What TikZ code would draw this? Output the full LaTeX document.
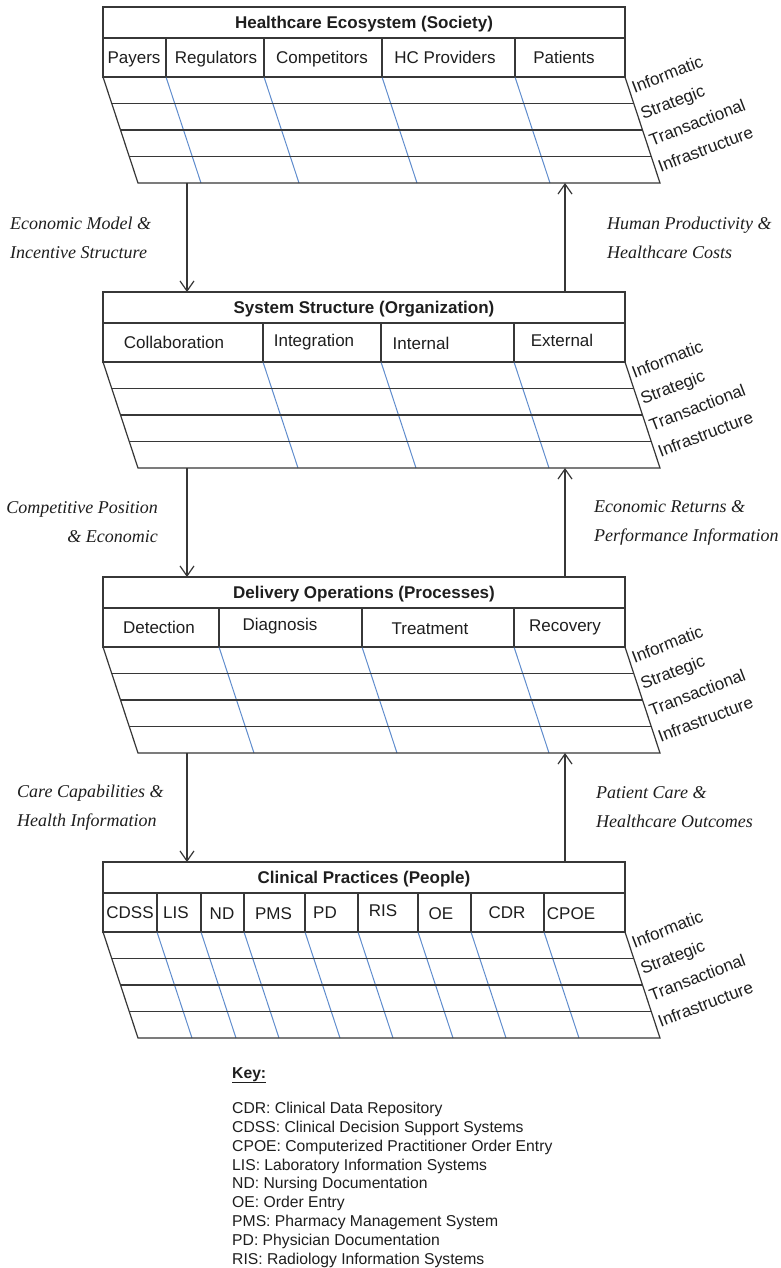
\documentclass[tikz,border=0pt]{standalone}
\usepackage{fontspec}
\setmainfont{Liberation Sans}
\newfontfamily\labelserif{Liberation Serif}
\usetikzlibrary{arrows.meta}

\definecolor{frameline}{RGB}{55,55,55}
\definecolor{cellblue}{RGB}{95,140,205}
\definecolor{inktext}{RGB}{30,30,30}

\tikzset{
  frame/.style={draw=frameline, line width=1.2pt},
  cellline/.style={draw=cellblue, line width=1pt},
  titletext/.style={font=\fontsize{17}{20}\selectfont\bfseries, text=inktext, inner sep=0pt, text height=12.2pt, text depth=0pt},
  celltext/.style={font=\fontsize{17}{20}\selectfont, text=inktext, inner sep=0pt, text height=12.2pt, text depth=0pt},
  layerlabel/.style={font=\fontsize{17}{20}\selectfont, text=inktext, inner sep=0pt, anchor=base west, rotate=21},
  flowlabel/.style={font=\labelserif\itshape\fontsize{18}{29}\selectfont, text=inktext, inner sep=0pt},
  flow/.style={draw=frameline, line width=1.2pt, -{Straight Barb[length=10pt,width=14pt,line width=1.2pt]}},
  keytext/.style={font=\fontsize{15.7}{18.8}\selectfont, text=inktext, inner sep=0pt, anchor=base west},
}

% One layer: title row, header row with column walls, and the slanted
% four-row grid with its row names on the right.
% #1 id, #2 top edge, #3 title, #4 column walls
\newcommand{\layerblock}[4]{%
  \pgfmathsetmacro{\tb}{#2+31}%
  \pgfmathsetmacro{\hb}{#2+70}%
  \pgfmathsetmacro{\gb}{#2+176}%
  \draw[frame] (103,#2) rectangle (625,\hb);
  \draw[frame] (103,\tb) -- (625,\tb);
  \node[titletext] (#1-title) at (364,#2+15.5) {#3};
  \foreach \xx in {#4} {
    \draw[frame] (\xx,\tb) -- (\xx,\hb);
    \draw[cellline] (\xx,\hb) -- (\xx+35,\gb);
  }
  \foreach \k in {1,2,3} {
    \draw[frame] (103+8.75*\k,\hb+26.5*\k) -- (625+8.75*\k,\hb+26.5*\k);
  }
  \draw[frame] (103,\hb) -- (625,\hb) -- (660,\gb) -- (138,\gb) -- cycle;
  \foreach \lab [count=\k from 0] in {Informatic,Strategic,Transactional,Infrastructure} {
    \node[layerlabel] (#1-layer\k) at (625+8.75*\k+9.4, \hb+26.5*\k+16.25) {\lab};
  }
}

\begin{document}
\begin{tikzpicture}[x=1pt,y=-1pt]
\useasboundingbox (0,0) rectangle (780,1268);
\fill[white] (0,0) rectangle (780,1268);

% ---- layers ----
\layerblock{soc}{7}{Healthcare Ecosystem (Society)}{166,264,382,515}
\node[celltext] (soc-c1) at (134,57.5) {Payers};
\node[celltext] (soc-c2) at (216,57.5) {Regulators};
\node[celltext] (soc-c3) at (322,57.5) {Competitors};
\node[celltext] (soc-c4) at (445,57.5) {HC Providers};
\node[celltext] (soc-c5) at (564,57.5) {Patients};

\layerblock{org}{292}{System Structure (Organization)}{263,381,514}
\node[celltext] (org-c1) at (174,342.5) {Collaboration};
\node[celltext] (org-c2) at (314,340.5) {Integration};
\node[celltext] (org-c3) at (421,343.5) {Internal};
\node[celltext] (org-c4) at (562,340.5) {External};

\layerblock{proc}{577}{Delivery Operations (Processes)}{219,362,514}
\node[celltext] (proc-c1) at (159,627.5) {Detection};
\node[celltext] (proc-c2) at (280,624.5) {Diagnosis};
\node[celltext] (proc-c3) at (430,628) {Treatment};
\node[celltext] (proc-c4) at (565,625.5) {Recovery};

\layerblock{ppl}{862}{Clinical Practices (People)}{157,201,244,305,358,418,471,544}
\node[celltext] (ppl-c1) at (130,912.5) {CDSS};
\node[celltext] (ppl-c2) at (176,912.5) {LIS};
\node[celltext] (ppl-c3) at (222,913.5) {ND};
\node[celltext] (ppl-c4) at (273.5,913.5) {PMS};
\node[celltext] (ppl-c5) at (325,912.5) {PD};
\node[celltext] (ppl-c6) at (383,910) {RIS};
\node[celltext] (ppl-c7) at (441,913) {OE};
\node[celltext] (ppl-c8) at (507,912.5) {CDR};
\node[celltext] (ppl-c9) at (571,913.5) {CPOE};

% ---- flows between layers ----
\coordinate (f1-out) at (187,183);  \coordinate (f1-in) at (187,292);
\coordinate (r1-out) at (565,292);  \coordinate (r1-in) at (565,183);
\coordinate (f2-out) at (187,468);  \coordinate (f2-in) at (187,577);
\coordinate (r2-out) at (565,577);  \coordinate (r2-in) at (565,468);
\coordinate (f3-out) at (187,753);  \coordinate (f3-in) at (187,862);
\coordinate (r3-out) at (565,862);  \coordinate (r3-in) at (565,753);

\draw[flow] (f1-out) -- (f1-in);
\draw[flow] (r1-out) -- (r1-in);
\draw[flow] (f2-out) -- (f2-in);
\draw[flow] (r2-out) -- (r2-in);
\draw[flow] (f3-out) -- (f3-in);
\draw[flow] (r3-out) -- (r3-in);

\node[flowlabel, anchor=west, align=left] (f1-text) at (10,237.5) {Economic Model \&\\Incentive Structure};
\node[flowlabel, anchor=west, align=left] (r1-text) at (607,237.5) {Human Productivity \&\\Healthcare Costs};
\node[flowlabel, anchor=east, align=right] (f2-text) at (158,522.5) {Competitive Position\\\& Economic};
\node[flowlabel, anchor=west, align=left] (r2-text) at (594,522.5) {Economic Returns \&\\Performance Information};
\node[flowlabel, anchor=west, align=left] (f3-text) at (17,807.5) {Care Capabilities \&\\Health Information};
\node[flowlabel, anchor=west, align=left] (r3-text) at (596,807.5) {Patient Care \&\\Healthcare Outcomes};

% ---- key ----
\node[keytext] (key-head) at (232,1078) {\textbf{\underline{Key:}}};
\foreach \entry [count=\i from 0] in {
  CDR: Clinical Data Repository,
  CDSS: Clinical Decision Support Systems,
  CPOE: Computerized Practitioner Order Entry,
  LIS: Laboratory Information Systems,
  ND: Nursing Documentation,
  OE: Order Entry,
  PMS: Pharmacy Management System,
  PD: Physician Documentation,
  RIS: Radiology Information Systems} {
  \node[keytext] (key-\i) at (232,1113.6+18.8*\i) {\entry};
}
\end{tikzpicture}
\end{document}
